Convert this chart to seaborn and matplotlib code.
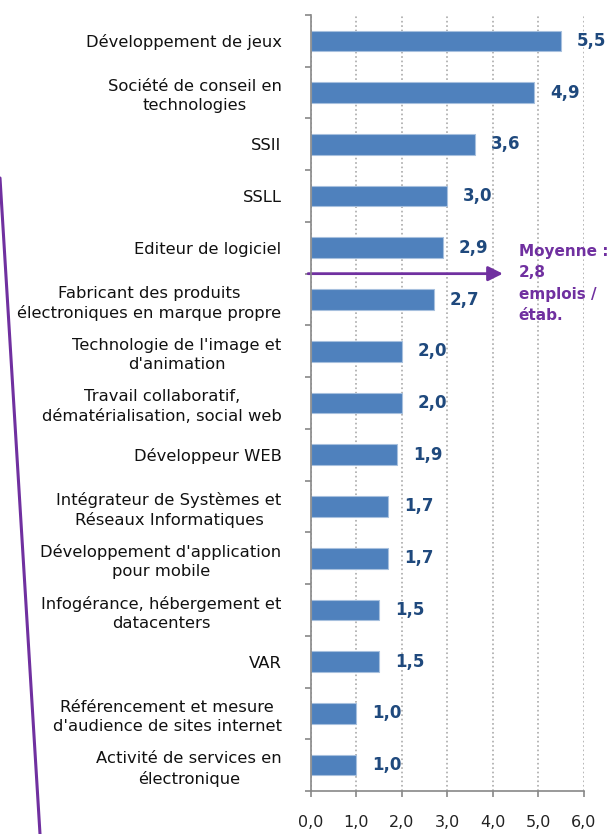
import numpy as np
import pandas as pd
import seaborn as sns
import matplotlib.pyplot as plt
from matplotlib.ticker import FuncFormatter, FixedLocator
from matplotlib.lines import Line2D

categories = [
    "Développement de jeux",
    "Société de conseil en\ntechnologies",
    "SSII",
    "SSLL",
    "Editeur de logiciel",
    "Fabricant des produits\nélectroniques en marque propre",
    "Technologie de l'image et\nd'animation",
    "Travail collaboratif,\ndématérialisation, social web",
    "Développeur WEB",
    "Intégrateur de Systèmes et\nRéseaux Informatiques",
    "Développement d'application\npour mobile",
    "Infogérance, hébergement et\ndatacenters",
    "VAR",
    "Référencement et mesure\nd'audience de sites internet",
    "Activité de services en\nélectronique",
]
values = [5.5, 4.9, 3.6, 3.0, 2.9, 2.7, 2.0, 2.0, 1.9, 1.7, 1.7, 1.5, 1.5, 1.0, 1.0]
moyenne = 2.8
moyenne_text = "Moyenne :\n2,8\nemplois /\nétab."

bar_color = "#4F81BD"
label_color = "#1F497D"
purple = "#7030A0"

sns.set_style("white")
plt.rcParams['font.family'] = ['DejaVu Sans']

fig = plt.figure(figsize=(6.07, 8.34), dpi=100)
ax = fig.add_axes([0.512, 0.0516, 0.45, 0.9304])

df = pd.DataFrame({"cat": categories, "val": values})
sns.barplot(data=df, x="val", y="cat", orient="h", color=bar_color, saturation=1,
            width=0.4, edgecolor="#A7C0DE", linewidth=0.8, ax=ax, zorder=3)

ax.set_xlim(0, 6)
ax.set_ylim(len(categories) - 0.5, -0.5)
ax.set_xlabel("")
ax.set_ylabel("")

# decimal comma ticks
ax.xaxis.set_major_locator(FixedLocator(np.arange(0, 7, 1)))
ax.xaxis.set_major_formatter(FuncFormatter(lambda v, p: f"{v:.1f}".replace(".", ",")))
ax.tick_params(axis="x", labelsize=11.5, labelcolor="#222222", length=4, width=1.2,
               pad=13, direction="out", bottom=True, color="#888888")
ax.set_yticks(range(len(categories)))
ax.set_yticks(np.arange(-0.5, len(categories), 1), minor=True)
ax.set_yticklabels(categories, fontsize=11.8, color="#111111",
                   multialignment="center", linespacing=1.35)
ax.tick_params(axis="y", which="major", length=0, pad=21)
ax.tick_params(axis="y", which="minor", length=4, width=1.2, color="#888888", left=True)

ax.grid(axis="x", linestyle=":", color="#AAAAAA", linewidth=1.2, zorder=0)
ax.grid(axis="y", visible=False)
for s in ["top", "right"]:
    ax.spines[s].set_visible(False)
for s in ["left", "bottom"]:
    ax.spines[s].set_color("#888888")
    ax.spines[s].set_linewidth(1.2)
    ax.spines[s].set_zorder(4)

# value labels
for i, v in enumerate(values):
    ax.text(v + 0.35, i, f"{v:.1f}".replace(".", ","), ha="left", va="center",
            fontsize=12, fontweight="bold", color=label_color)

# average arrow
ax.annotate("", xy=(4.28, 4.5), xytext=(-0.12, 4.5),
            arrowprops=dict(arrowstyle="-|>", color=purple, lw=2, mutation_scale=22),
            annotation_clip=False)
ax.text(4.57, 3.92, moyenne_text, ha="left", va="top", fontsize=11, fontweight="bold",
        color=purple, linespacing=1.55, clip_on=False)

# purple diagonal line on the left
fig.add_artist(Line2D([0.0, 40 / 607], [1 - 178 / 834, 0.0], color=purple, lw=2.2,
                      transform=fig.transFigure))

fig.savefig("out.png", dpi=100)
